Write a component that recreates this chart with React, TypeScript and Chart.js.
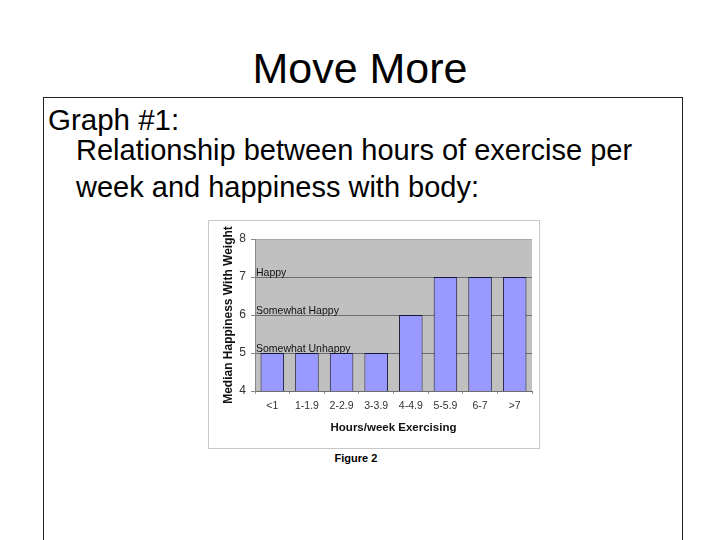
import { useEffect, useRef } from 'react';
import { Chart, registerables } from 'chart.js';

Chart.register(...registerables);

const hourRanges = ['<1', '1-1.9', '2-2.9', '3-3.9', '4-4.9', '5-5.9', '6-7', '>7'];
const medianHappiness = [5, 5, 5, 5, 6, 7, 7, 7];
const moodLevels = [7, 6, 5];
const moodNames = ['Happy', 'Somewhat Happy', 'Somewhat Unhappy'];

const FONT = '"Liberation Sans", Arial, sans-serif';

// grey plot area behind everything, Excel style
const plotBackground = {
  id: 'plotBackground',
  beforeDraw(chart: any) {
    const { ctx, chartArea } = chart;
    ctx.save();
    ctx.fillStyle = '#c0c0c0';
    ctx.fillRect(chartArea.left, chartArea.top, chartArea.right - chartArea.left, chartArea.bottom - chartArea.top);
    ctx.restore();
  },
};

// mood words written over the grid lines
const moodText = {
  id: 'moodText',
  afterDatasetsDraw(chart: any) {
    const { ctx, chartArea } = chart;
    const y = chart.scales.y;
    ctx.save();
    ctx.font = `10.5px ${FONT}`;
    ctx.fillStyle = '#111';
    ctx.textAlign = 'left';
    ctx.textBaseline = 'alphabetic';
    moodLevels.forEach((v, i) => {
      ctx.fillText(moodNames[i], chartArea.left + 1, y.getPixelForValue(v) - 1);
    });
    ctx.restore();
  },
};

const HappinessChart = () => {
  const canvasRef = useRef(null as HTMLCanvasElement | null);
  const chartRef = useRef(null as any);

  useEffect(() => {
    if (!canvasRef.current) return;
    const ctx = canvasRef.current.getContext('2d');
    if (!ctx) return;
    if (chartRef.current) chartRef.current.destroy();

    chartRef.current = new Chart(ctx, {
      type: 'bar',
      data: {
        labels: hourRanges,
        datasets: [{
          data: medianHappiness,
          backgroundColor: '#9999ff',
          borderColor: '#16163a',
          borderWidth: 1,
          barPercentage: 0.68,
          categoryPercentage: 1,
        }],
      },
      options: {
        responsive: false,
        animation: false,
        layout: { padding: { top: 18, right: 7, left: 0, bottom: 0 } },
        plugins: {
          legend: { display: false },
          tooltip: { enabled: false },
        },
        scales: {
          x: {
            grid: { drawOnChartArea: false, offset: true, tickLength: 3, color: '#9a9a9a' },
            border: { display: true, color: '#6e6e6e' },
            ticks: { color: '#333', padding: 6, font: { family: FONT, size: 10.5 } },
            title: {
              display: true,
              text: 'Hours/week Exercising',
              color: '#111',
              font: { family: FONT, size: 11.5, weight: 'bold' },
              padding: { top: 4, bottom: 13 },
            },
            afterFit: (s: any) => { s.height = 57; },
          },
          y: {
            min: 4,
            max: 8,
            ticks: { stepSize: 1, color: '#333', padding: 5, font: { family: FONT, size: 12 } },
            grid: {
              color: (c: any) => (c.tick && c.tick.value === 8 ? '#a8a8a8' : '#6e6e6e'),
              tickLength: 4,
              tickColor: '#888',
            },
            border: { display: true, color: '#888' },
            title: {
              display: true,
              text: 'Median Happiness With Weight',
              color: '#111',
              font: { family: FONT, size: 12, weight: 'bold' },
              padding: { top: 12, bottom: 0 },
            },
            afterFit: (s: any) => { s.width = 46; },
          },
        },
      } as any,
      plugins: [plotBackground, moodText],
    });

    return () => {
      if (chartRef.current) chartRef.current.destroy();
      chartRef.current = null;
    };
  }, []);

  return <canvas ref={canvasRef} width={330} height={227} style={{ display: 'block' }} />;
};

const abs = (left: number, top: number, size: number, extra: any = {}) => ({
  position: 'absolute' as const,
  left,
  top,
  fontSize: size,
  lineHeight: `${size}px`,
  whiteSpace: 'nowrap' as const,
  color: '#000',
  ...extra,
});

export default function App() {
  return (
    <div style={{ position: 'fixed', left: 0, top: 0, width: 720, height: 540, background: '#fff', fontFamily: FONT, overflow: 'hidden' }}>
      <div style={abs(0, 47, 43, { width: 720, textAlign: 'center' })}>Move More</div>
      <div style={{ position: 'absolute', left: 43, top: 97, width: 640, height: 460, border: '1px solid #222', boxSizing: 'border-box' }} />
      <div style={abs(48, 104.5, 29.5)}>Graph #1:</div>
      <div style={abs(76, 135.5, 29)}>Relationship between hours of exercise per</div>
      <div style={abs(76, 172.5, 29)}>week and happiness with body:</div>
      <div style={{ position: 'absolute', left: 208, top: 220, width: 332, height: 229, border: '1px solid #c8c8c8', boxSizing: 'border-box', background: '#fff' }}>
        <HappinessChart />
      </div>
      <div style={abs(0, 453, 11, { width: 712, textAlign: 'center', fontWeight: 'bold' })}>Figure 2</div>
    </div>
  );
}
